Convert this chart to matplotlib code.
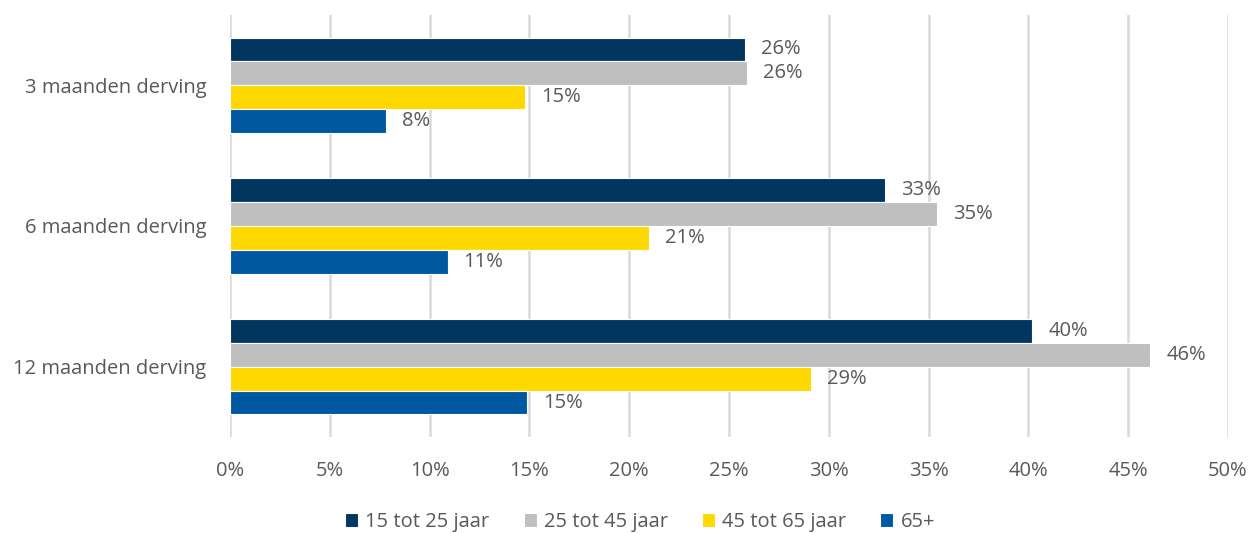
import matplotlib
matplotlib.use("Agg")

import matplotlib.pyplot as plt
import matplotlib.ticker as mticker
import numpy as np

# ── Data ──────────────────────────────────────────────────────────────────────
categories = ["3 maanden derving", "6 maanden derving", "12 maanden derving"]
series_names = ["15 tot 25 jaar", "25 tot 45 jaar", "45 tot 65 jaar", "65+"]
age_15_25 = [25.8, 32.8, 40.2]
age_25_45 = [25.9, 35.4, 46.1]
age_45_65 = [14.8, 21.0, 29.1]
age_65_plus = [7.8, 10.9, 14.9]
x_ticks = [0, 5, 10, 15, 20, 25, 30, 35, 40, 45, 50]

# ── Style ─────────────────────────────────────────────────────────────────────
COLORS = ["#003660", "#BFBFBF", "#FFD800", "#0058A0"]
TEXT = "#595959"
GRID = "#D9D9D9"
FS = 14.5
plt.rcParams["font.family"] = ["Open Sans", "DejaVu Sans"]

fig = plt.figure(figsize=(12.53, 5.33), dpi=100)
ax = fig.add_axes([230 / 1253, 1 - 437 / 533, 998 / 1253, 422 / 533])

y = np.arange(len(categories))
bar_h = 0.17
offsets = [-1.5, -0.5, 0.5, 1.5]
all_series = [age_15_25, age_25_45, age_45_65, age_65_plus]

for vals, name, color, off in zip(all_series, series_names, COLORS, offsets):
    bars = ax.barh(y + off * bar_h, vals, height=bar_h, color=color,
                   edgecolor="white", linewidth=0.8, label=name, zorder=2)
    for rect, v in zip(bars, vals):
        ax.annotate(f"{v:.0f}%", (v, rect.get_y() + rect.get_height() / 2),
                    xytext=(16, 0), textcoords="offset pixels",
                    ha="left", va="center", fontsize=FS, color=TEXT)

ax.set_xlim(0, 50)
ax.set_ylim(2.5, -0.5)
ax.set_xticks(x_ticks)
ax.xaxis.set_major_formatter(mticker.FuncFormatter(lambda v, _: f"{v:.0f}%"))
ax.set_yticks(y)
ax.set_yticklabels(categories)
ax.tick_params(axis="both", length=0, labelsize=FS, colors=TEXT)
ax.tick_params(axis="x", pad=17)
ax.tick_params(axis="y", pad=17)
ax.grid(axis="x", color=GRID, linewidth=1.8, zorder=0)
ax.set_axisbelow(True)
for spine in ax.spines.values():
    spine.set_visible(False)

fig.legend(loc="center", bbox_to_anchor=(640 / 1253, 1 - 522 / 533), ncol=4,
           frameon=False, fontsize=FS, labelcolor=TEXT,
           handlelength=0.65, handleheight=0.65, handletextpad=0.35,
           columnspacing=1.7)

fig.savefig("out.png", dpi=100, facecolor="white")
